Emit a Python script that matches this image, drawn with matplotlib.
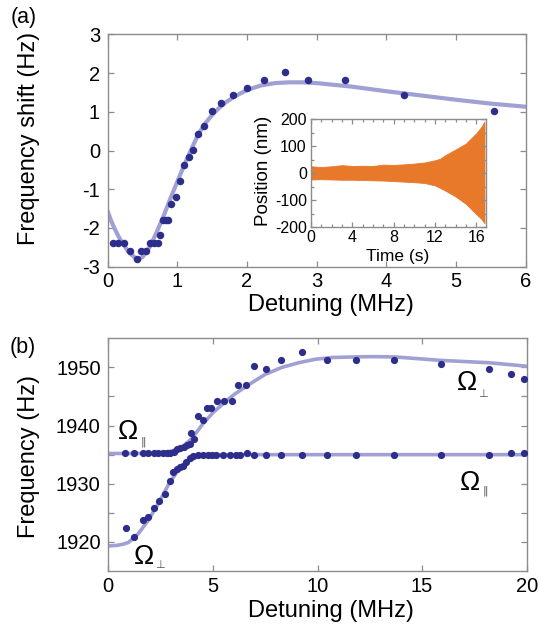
import matplotlib.pyplot as plt

plt.rcParams['font.family'] = ['Liberation Sans', 'DejaVu Sans']
plt.rcParams['axes.unicode_minus'] = False

# (a) measured frequency shift vs detuning
det_a = [0.07, 0.15, 0.23, 0.325, 0.415, 0.475, 0.545, 0.60, 0.665, 0.715,
         0.755, 0.79, 0.83, 0.87, 0.915, 0.98, 1.04, 1.10, 1.16, 1.22,
         1.30, 1.38, 1.50, 1.63, 1.80, 2.00, 2.24, 2.54, 2.88, 3.41, 4.25, 5.54]
shift_a = [-2.40, -2.40, -2.40, -2.60, -2.79, -2.60, -2.60, -2.40, -2.40, -2.40,
           -2.19, -1.79, -1.79, -1.79, -1.39, -1.19, -0.78, -0.38, -0.18, 0.01,
           0.42, 0.62, 1.03, 1.22, 1.42, 1.62, 1.82, 2.02, 1.82, 1.82, 1.42, 1.03]

# (a) model curve
fit_det_a = [0.0, 0.05, 0.1, 0.15, 0.2, 0.3, 0.4, 0.45, 0.5, 0.6, 0.7, 0.8, 0.9,
             1.0, 1.1, 1.2, 1.3, 1.4, 1.5, 1.6, 1.7, 1.8, 1.9, 2.0, 2.2, 2.4,
             2.6, 2.8, 3.0, 3.5, 4.0, 4.5, 5.0, 5.5, 6.0]
fit_shift_a = [-1.57, -1.82, -2.02, -2.20, -2.36, -2.62, -2.78, -2.80, -2.75, -2.50,
               -2.12, -1.70, -1.24, -0.80, -0.37, 0.03, 0.42, 0.70, 0.92, 1.10,
               1.25, 1.37, 1.47, 1.56, 1.68, 1.74, 1.76, 1.76, 1.74, 1.65, 1.53,
               1.42, 1.31, 1.21, 1.13]

# inset: position trace envelope
time_s = [0, 1, 2, 3, 4, 5, 6, 7, 8, 9, 10, 11, 12, 12.5, 13, 14, 15, 16, 16.5, 16.8]
pos_upper = [25, 22, 25, 29, 26, 27, 26, 31, 30, 32, 35, 39, 47, 53, 66, 87, 109, 147, 171, 190]
pos_lower = [-24, -23, -24, -25, -25, -26, -27, -28, -30, -32, -34, -37, -46, -55, -65, -87, -114, -152, -170, -186]

# (b) measured mode frequencies
det_b_upper = [0.80, 1.23, 1.64, 1.91, 2.17, 2.39, 2.60, 2.79, 2.96, 3.15, 3.30, 3.45,
               3.60, 3.75, 3.90, 3.97, 4.08, 4.30, 4.55, 4.72, 4.90, 5.18, 5.55, 5.90,
               6.21, 6.58, 6.96, 7.54, 8.26, 9.28, 10.47, 11.84, 13.66, 15.90, 18.20,
               19.23, 19.87]
freq_b_upper = [1935.3, 1935.3, 1935.3, 1935.3, 1935.3, 1935.3, 1935.3, 1935.3, 1935.3,
                1935.5, 1935.9, 1936.2, 1936.4, 1936.6, 1936.8, 1938.7, 1937.7, 1941.7,
                1941.0, 1943.0, 1943.0, 1944.3, 1944.3, 1944.3, 1947.0, 1946.9, 1950.2,
                1949.8, 1951.3, 1952.6, 1951.2, 1951.3, 1951.2, 1950.6, 1949.8, 1948.9,
                1948.0]
det_b_lower = [0.83, 1.23, 1.64, 1.91, 2.18, 2.44, 2.71, 2.95, 3.11, 3.27, 3.43, 3.59,
               3.71, 3.90, 4.06, 4.30, 4.55, 4.75, 4.95, 5.15, 5.50, 5.82, 6.09, 6.30,
               6.62, 6.98, 7.54, 8.26, 9.28, 10.47, 11.84, 13.66, 15.90, 18.20, 19.23,
               19.87]
freq_b_lower = [1922.4, 1920.9, 1923.7, 1924.3, 1925.9, 1927.0, 1928.2, 1930.5, 1932.1,
                1932.6, 1932.9, 1933.1, 1933.8, 1934.4, 1934.7, 1934.9, 1935.0, 1935.0,
                1935.0, 1935.0, 1934.9, 1934.9, 1934.9, 1934.95, 1935.2, 1934.9, 1935.0,
                1935.0, 1935.0, 1935.0, 1935.0, 1935.0, 1935.0, 1935.0, 1935.3, 1935.3]

# (b) model curves
fit_det_b_upper = [0, 1, 2, 2.5, 3.0, 3.5, 4.0, 4.5, 5.0, 5.5, 6.0, 6.7, 7.5, 8.3,
                   9.1, 9.9, 10.7, 11.8, 12.5, 13.7, 15.9, 18.2, 20]
fit_freq_b_upper = [1935.2, 1935.2, 1935.25, 1935.35, 1935.6, 1936.2, 1937.8, 1940.2,
                    1942.2, 1943.8, 1945.3, 1947.0, 1948.8, 1950.0, 1950.8, 1951.4,
                    1951.7, 1951.8, 1951.85, 1951.8, 1951.2, 1950.8, 1950.2]
fit_det_b_lower = [0, 0.4, 0.7, 0.96, 1.43, 1.91, 2.39, 2.87, 3.35, 3.82, 4.3, 4.94,
                   6, 10, 15, 20]
fit_freq_b_lower = [1919.3, 1919.4, 1919.6, 1919.9, 1921.4, 1923.7, 1926.6, 1929.8,
                    1932.4, 1933.9, 1934.7, 1934.95, 1935.0, 1935.0, 1935.0, 1935.0]

dot_color = '#2d2d8c'
fit_color = '#a0a0d4'
axis_gray = '#8c8c8c'
orange = '#e8782a'
W, H = 546, 629


def style_axes(ax, labelsize, length=4.5, xpad=4, ypad=5.5):
    for spine in ax.spines.values():
        spine.set_color(axis_gray)
        spine.set_linewidth(1.0)
    ax.tick_params(which='both', direction='in', top=True, right=True,
                   color=axis_gray, labelsize=labelsize, width=0.9)
    ax.tick_params(which='major', length=length)
    ax.tick_params(axis='x', pad=xpad)
    ax.tick_params(axis='y', pad=ypad)


fig = plt.figure(figsize=(W / 100, H / 100), dpi=100)
ax_a = fig.add_axes([107.7 / W, 1 - 266.7 / H, 418 / W, 232.4 / H])
ax_b = fig.add_axes([108.3 / W, 1 - 571 / H, 418.4 / W, 232.7 / H])
ax_in = fig.add_axes([311 / W, 1 - 227 / H, 174.5 / W, 108 / H])

# panel (a)
ax_a.plot(fit_det_a, fit_shift_a, color=fit_color, lw=3.0, solid_capstyle='round', zorder=2)
ax_a.plot(det_a, shift_a, 'o', color=dot_color, ms=5.4, mec='none', zorder=3)
ax_a.set_xlim(0, 6)
ax_a.set_ylim(-3, 3)
ax_a.set_xticks(range(0, 7))
ax_a.set_yticks(range(-3, 4))
style_axes(ax_a, 14.5)

# inset
ax_in.fill_between(time_s, pos_lower, pos_upper, color=orange, lw=0.6, edgecolor=orange)
ax_in.set_xlim(0, 16.9)
ax_in.set_ylim(-200, 200)
ax_in.set_xticks([0, 4, 8, 12, 16])
ax_in.set_xticks(range(0, 17), minor=True)
ax_in.set_yticks([-200, -100, 0, 100, 200])
ax_in.set_yticks([-150, -50, 50, 150], minor=True)
style_axes(ax_in, 11.5, length=3.5, xpad=2, ypad=3)
ax_in.tick_params(which='minor', length=2)
fig.text(263 / W, 1 - 171 / H, 'Position (nm)', rotation=90, ha='center', va='center', fontsize=13.5)
fig.text(397.5 / W, 1 - 256 / H, 'Time (s)', ha='center', va='center', fontsize=12.5)

# panel (b)
ax_b.plot(fit_det_b_upper, fit_freq_b_upper, color=fit_color, lw=2.6, zorder=2)
ax_b.plot(fit_det_b_lower, fit_freq_b_lower, color=fit_color, lw=2.6, zorder=2)
ax_b.plot(det_b_upper, freq_b_upper, 'o', color=dot_color, ms=5.2, mec='none', zorder=3)
ax_b.plot(det_b_lower, freq_b_lower, 'o', color=dot_color, ms=5.2, mec='none', zorder=3)
ax_b.set_xlim(0, 20)
ax_b.set_ylim(1915, 1955)
ax_b.set_xticks([0, 5, 10, 15, 20])
ax_b.set_yticks(range(1920, 1951, 5))
ax_b.set_yticklabels(['1920', '', '1930', '', '1940', '', '1950'])
style_axes(ax_b, 14.5)

# mode labels: big Omega with a small grey subscript
omega_labels = [
    (0.92, 1938.9, 1937.2, '\u2016'),
    (1.72, 1917.4, 1916.1, '\u22a5'),
    (17.16, 1947.3, 1945.5, '\u22a5'),
    (17.29, 1930.1, 1928.8, '\u2016'),
]
for ox, oy, sy, sub in omega_labels:
    ax_b.text(ox, oy, '\u03a9', fontsize=19.5, ha='center', va='center')
    ax_b.text(ox + 0.74, sy, sub, fontsize=8, ha='center', va='center', color='#555555',
              family=['DejaVu Sans'])

# axis labels and panel tags
fig.text(29 / W, 1 - 138 / H, 'Frequency shift (Hz)', rotation=90, ha='center', va='center', fontsize=17)
fig.text(331 / W, 1 - 305 / H, 'Detuning (MHz)', ha='center', va='center', fontsize=17)
fig.text(29 / W, 1 - 456 / H, 'Frequency (Hz)', rotation=90, ha='center', va='center', fontsize=17)
fig.text(331 / W, 1 - 611 / H, 'Detuning (MHz)', ha='center', va='center', fontsize=17)
fig.text(24 / W, 1 - 18 / H, '(a)', ha='center', va='center', fontsize=15.5)
fig.text(23 / W, 1 - 347 / H, '(b)', ha='center', va='center', fontsize=15.5)

fig.savefig('out.png', dpi=100)
